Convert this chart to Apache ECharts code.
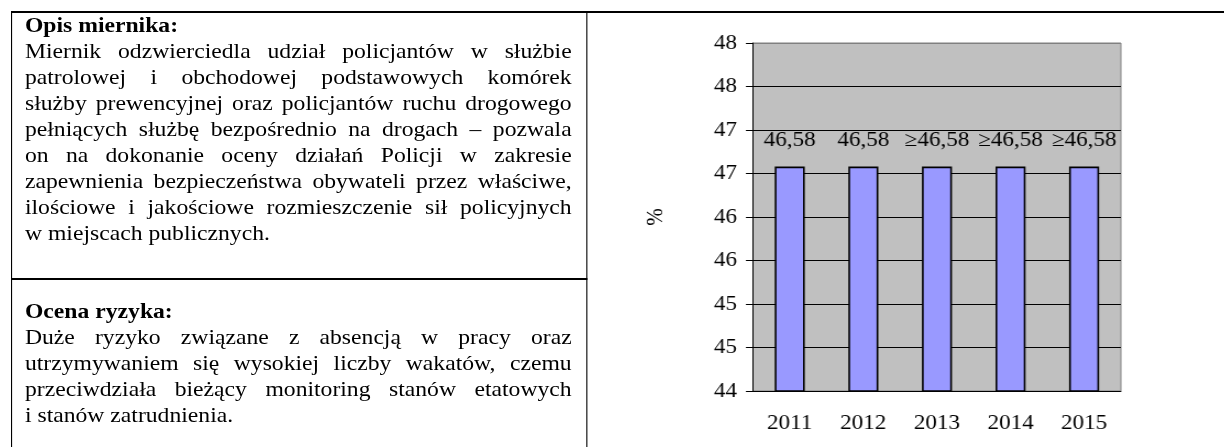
<!DOCTYPE html>
<html>
<head>
<meta charset="utf-8">
<title>Miernik</title>
<script src="https://cdn.jsdelivr.net/npm/echarts@6/dist/echarts.min.js"></script>
<style>
  html, body { margin: 0; padding: 0; background: #fff; overflow: hidden; }
  body { width: 1224px; height: 447px; font-family: 'Liberation Serif', 'Times New Roman', serif; color: #000; }
  /* oryginał jest lekko rozciągnięty w poziomie, stąd scaleX */
  #page { position: relative; width: 1113px; height: 447px; transform: scaleX(1.1); transform-origin: 0 0; }
  .line { position: absolute; background: #000; }
  .cell { position: absolute; left: 22.7px; width: 497px; font-size: 21.5px; line-height: 26px; }
  .cell div { white-space: nowrap; text-align: justify; text-align-last: justify; }
  .cell div.last { text-align-last: left; }
  #main { position: absolute; left: 0; top: 0; width: 1113px; height: 447px; }
</style>
</head>
<body>
<div id="page">
  <!-- ramki tabeli -->
  <div class="line" style="left:9.5px; top:11px; width:1104px; height:2px"></div>
  <div class="line" style="left:9.5px; top:11px; width:1.8px; height:436px"></div>
  <div class="line" style="left:532.7px; top:11px; width:1.8px; height:436px"></div>
  <div class="line" style="left:9.5px; top:278px; width:524px; height:2px"></div>

  <div class="cell" style="top:12px">
    <div class="last"><b>Opis miernika:</b></div>
    <div>Miernik odzwierciedla udział policjantów w służbie</div>
    <div>patrolowej i obchodowej podstawowych komórek</div>
    <div>służby prewencyjnej oraz policjantów ruchu drogowego</div>
    <div>pełniących służbę bezpośrednio na drogach – pozwala</div>
    <div>on na dokonanie oceny działań Policji w zakresie</div>
    <div>zapewnienia bezpieczeństwa obywateli przez właściwe,</div>
    <div>ilościowe i jakościowe rozmieszczenie sił policyjnych</div>
    <div class="last">w miejscach publicznych.</div>
  </div>

  <div class="cell" style="top:298px">
    <div class="last"><b>Ocena ryzyka:</b></div>
    <div>Duże ryzyko związane z absencją w pracy oraz</div>
    <div>utrzymywaniem się wysokiej liczby wakatów, czemu</div>
    <div>przeciwdziała bieżący monitoring stanów etatowych</div>
    <div class="last">i stanów zatrudnienia.</div>
  </div>

  <div id="main"></div>
</div>

<script>
// lata
const years = ['2011', '2012', '2013', '2014', '2015']
// wartości miernika (%)
const values = [46.58, 46.58, 46.58, 46.58, 46.58]
// etykiety nad słupkami
const barLabels = ['46,58', '46,58', '≥46,58', '≥46,58', '≥46,58']
// oś Y
const yMin = 44
const yMax = 48
const yStep = 0.5

const font = 'Liberation Serif'

var myChart = echarts.init(document.getElementById('main'))
myChart.setOption({
  animation: false,
  grid: {
    left: 684.5,
    top: 43,
    width: 334.5,
    height: 348,
    show: true,
    backgroundColor: '#c0c0c0',
    borderColor: '#808080',
    borderWidth: 1
  },
  xAxis: {
    type: 'category',
    data: years,
    axisLine: { lineStyle: { color: '#000', width: 1 } },
    axisTick: { length: 5, lineStyle: { color: '#000' } },
    axisLabel: { color: '#000', fontFamily: font, fontSize: 21, margin: 22 }
  },
  yAxis: {
    type: 'value',
    min: yMin,
    max: yMax,
    interval: yStep,
    name: '%',
    nameLocation: 'middle',
    nameRotate: 90,
    nameGap: 78,
    nameTextStyle: { color: '#000', fontFamily: font, fontSize: 21 },
    axisLine: { show: true, lineStyle: { color: '#000', width: 1 } },
    axisTick: { show: true, length: 6.4, lineStyle: { color: '#000' } },
    axisLabel: {
      color: '#000', fontFamily: font, fontSize: 21, margin: 14.5,
      // etykiety zaokrąglone do liczb całkowitych, jak w oryginale
      formatter: (v) => String(Math.round(v))
    },
    splitLine: {
      lineStyle: {
        color: ['#000', '#000', '#000', '#000', '#000', '#000', '#000', '#000', '#808080'],
        width: 1
      }
    }
  },
  series: [
    {
      type: 'bar',
      data: values,
      barWidth: 27.3,
      itemStyle: { color: '#9999ff', borderColor: '#000', borderWidth: 1.6 },
      label: {
        show: true,
        position: 'top',
        distance: 16,
        color: '#000',
        fontFamily: font,
        fontSize: 21,
        formatter: (p) => barLabels[p.dataIndex]
      }
    }
  ]
})
</script>
</body>
</html>
